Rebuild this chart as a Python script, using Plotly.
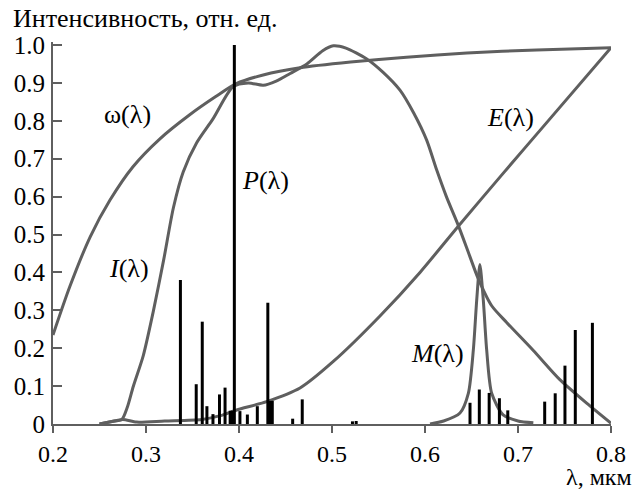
import plotly.graph_objects as go

# ---- data ----
omega_x = [0.200, 0.218, 0.240, 0.2613, 0.286, 0.3147, 0.347, 0.375, 0.397, 0.426, 0.4656, 0.52, 0.58, 0.645, 0.72, 0.800]
omega_y = [0.235, 0.362, 0.494, 0.591, 0.679, 0.752, 0.816, 0.864, 0.898, 0.921, 0.940, 0.955, 0.968, 0.979, 0.987, 0.993]

i_x = [0.250, 0.262, 0.274, 0.280, 0.2863, 0.297, 0.3079, 0.319, 0.3294, 0.340, 0.3545, 0.372, 0.3935, 0.41, 0.426, 0.44, 0.455, 0.473, 0.490, 0.5014, 0.515, 0.537, 0.555, 0.5731, 0.588, 0.6018, 0.6126, 0.623, 0.6358, 0.6484, 0.657, 0.6717, 0.6878, 0.7165, 0.745, 0.7738, 0.800]
i_y = [0.000, 0.006, 0.012, 0.045, 0.099, 0.180, 0.298, 0.433, 0.570, 0.665, 0.742, 0.805, 0.890, 0.900, 0.894, 0.905, 0.925, 0.950, 0.985, 0.998, 0.992, 0.964, 0.928, 0.881, 0.820, 0.749, 0.670, 0.600, 0.524, 0.441, 0.385, 0.312, 0.268, 0.194, 0.117, 0.055, 0.002]

e_x = [0.250, 0.262, 0.275, 0.290, 0.320, 0.360, 0.380, 0.3975, 0.4297, 0.4656, 0.5014, 0.5516, 0.5946, 0.6358, 0.6842, 0.7269, 0.800]
e_y = [0.000, 0.006, 0.012, 0.005, 0.008, 0.012, 0.022, 0.037, 0.059, 0.095, 0.165, 0.285, 0.400, 0.522, 0.662, 0.784, 0.993]

m_x = [0.6054, 0.620, 0.6376, 0.6466, 0.652, 0.6556, 0.659, 0.6627, 0.6663, 0.6717, 0.684, 0.700, 0.7165]
m_y = [0.000, 0.008, 0.029, 0.081, 0.196, 0.327, 0.421, 0.327, 0.196, 0.081, 0.024, 0.008, 0.003]

p_x = [0.337, 0.354, 0.3605, 0.3655, 0.372, 0.379, 0.385, 0.3905, 0.3930, 0.395, 0.401, 0.409, 0.4197, 0.431, 0.4330, 0.4358, 0.4577, 0.468, 0.522, 0.526,
       0.6484, 0.6584, 0.669, 0.680, 0.689, 0.7287, 0.740, 0.7505, 0.7616, 0.780]
p_y = [0.380, 0.105, 0.270, 0.047, 0.026, 0.078, 0.096, 0.035, 0.035, 1.000, 0.034, 0.025, 0.047, 0.320, 0.061, 0.061, 0.014, 0.065, 0.007, 0.008,
       0.056, 0.091, 0.082, 0.068, 0.036, 0.059, 0.081, 0.154, 0.248, 0.267]

x_ticks = [0.2, 0.3, 0.4, 0.5, 0.6, 0.7, 0.8]
x_tick_text = ["0.2", "0.3", "0.4", "0.5", "0.6", "0.7", "0.8"]
y_ticks = [0, 0.1, 0.2, 0.3, 0.4, 0.5, 0.6, 0.7, 0.8, 0.9, 1.0]
y_tick_text = ["0", "0.1", "0.2", "0.3", "0.4", "0.5", "0.6", "0.7", "0.8", "0.9", "1.0"]

FONT = "Liberation Serif"
GREY = "#5f5f5f"

fig = go.Figure()
for xs, ys in [(omega_x, omega_y), (i_x, i_y), (e_x, e_y), (m_x, m_y)]:
    fig.add_trace(go.Scatter(x=xs, y=ys, mode="lines",
                             line=dict(color=GREY, width=3, shape="spline", smoothing=0.7),
                             showlegend=False, hoverinfo="skip"))

# line spectrum P(λ): vertical bars from the baseline
bx, by = [], []
for x, h in zip(p_x, p_y):
    bx += [x, x, None]
    by += [0, h, None]
fig.add_trace(go.Scatter(x=bx, y=by, mode="lines", line=dict(color="black", width=3),
                         showlegend=False, hoverinfo="skip"))

labels = [
    ("ω(λ)", 0.2806, 0.817),
    ("<i>I</i>(λ)", 0.2817, 0.411),
    ("<i>P</i>(λ)", 0.4280, 0.643),
    ("<i>E</i>(λ)", 0.6914, 0.809),
    ("<i>M</i>(λ)", 0.6129, 0.185),
]
for t, x, y in labels:
    fig.add_annotation(x=x, y=y, xref="x", yref="y", text=t, showarrow=False,
                       font=dict(family=FONT, size=26, color="black"))

fig.add_annotation(x=-0.0735, y=1.0628, xref="paper", yref="paper", xanchor="left", yanchor="middle",
                   text="Интенсивность, отн. ед.", showarrow=False, borderpad=0,
                   font=dict(family=FONT, size=26, color="black"))
fig.add_annotation(x=1.0394, y=-0.1387, xref="paper", yref="paper", xanchor="right", yanchor="middle",
                   text="λ, мкм", showarrow=False, borderpad=0,
                   font=dict(family=FONT, size=24, color="black"))

fig.update_layout(
    width=638, height=490,
    margin=dict(l=53, r=27, t=42, b=66, autoexpand=False),
    paper_bgcolor="white", plot_bgcolor="white",
    font=dict(family=FONT, color="black"),
    xaxis=dict(range=[0.2, 0.8], tickvals=x_ticks, ticktext=x_tick_text, ticks="outside",
               ticklen=7, tickwidth=2, tickcolor=GREY, showline=True, linecolor=GREY, linewidth=2,
               showgrid=False, zeroline=False, automargin=False,
               tickfont=dict(family=FONT, size=24, color="black")),
    yaxis=dict(range=[0, 1.008], tickvals=y_ticks, ticktext=y_tick_text, ticks="inside",
               ticklen=9, tickwidth=2, tickcolor=GREY, showline=True, linecolor=GREY, linewidth=2,
               showgrid=False, zeroline=False, ticklabelstandoff=1, automargin=False,
               tickfont=dict(family=FONT, size=25, color="black")),
)

# remove the default page margin so the figure fills the 638x490 window exactly
fig.write_html("out.html", config={"displayModeBar": False},
               post_script="document.body.style.margin='0';document.body.style.overflow='hidden';")
